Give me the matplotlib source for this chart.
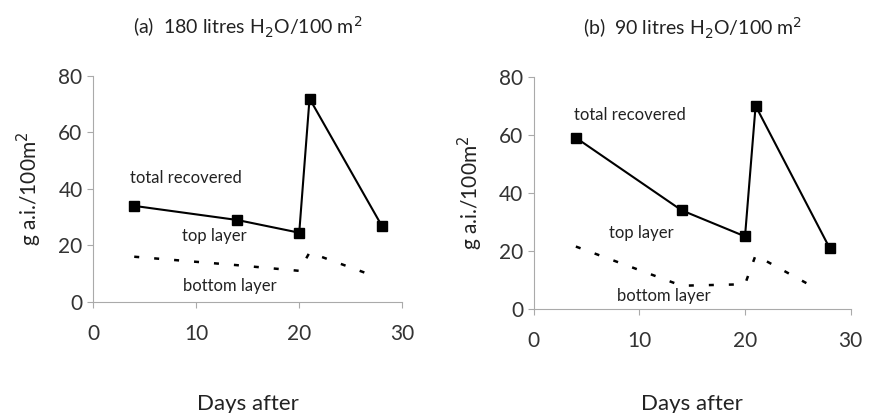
import matplotlib.pyplot as plt

plt.rcParams['font.family'] = ['Lato', 'DejaVu Sans']

# days after application
days = [4, 14, 20, 21, 28]
days_bottom_a = [4, 14, 20, 21, 27]
days_bottom_b = [4, 14, 20, 21, 27]

# panel (a) 180 litres
total_a = [34, 29, 24.5, 72, 27]
bottom_a = [16, 13, 11, 17.5, 9.5]

# panel (b) 90 litres
total_b = [59, 34, 25, 70, 21]
bottom_b = [21.5, 8, 8.5, 18.5, 6.5]

titles = ['(a)  180 litres H$_2$O/100 m$^2$', '(b)  90 litres H$_2$O/100 m$^2$']
xticks = [0, 10, 20, 30]
yticks = [0, 20, 40, 60, 80]

fig = plt.figure(figsize=(8.69, 4.13), dpi=100)
ax_a = fig.add_axes([0.107, 0.269, 0.356, 0.547])
ax_b = fig.add_axes([0.614, 0.252, 0.365, 0.562])

panels = [
    (ax_a, total_a, days_bottom_a, bottom_a,
     (3.6, 44), (11.8, 23.5), (13.3, 5.7), 36),
    (ax_b, total_b, days_bottom_b, bottom_b,
     (3.8, 67), (10.2, 26), (12.3, 4.5), 31),
]

for i, (ax, tot, xb, bot, p_tot, p_top, p_bot, xpad) in enumerate(panels):
    ax.plot(days, tot, color='black', lw=1.5, marker='s', ms=7, clip_on=False)
    ax.plot(xb, bot, color='black', lw=1.8, linestyle=(0, (2, 6)), clip_on=False)
    ax.set_xlim(0, 30)
    ax.set_ylim(0, 80)
    ax.set_xticks(xticks)
    ax.set_yticks(yticks)
    for s in ['top', 'right']:
        ax.spines[s].set_visible(False)
    for s in ['left', 'bottom']:
        ax.spines[s].set_color('#aaaaaa')
        ax.spines[s].set_linewidth(0.8)
    ax.tick_params(axis='both', colors='#aaaaaa', labelcolor='#333333',
                   labelsize=15, length=4, width=0.8)
    ax.tick_params(axis='x', pad=12)
    ax.text(p_tot[0], p_tot[1], 'total recovered', fontsize=12, ha='left', va='center', color='#222222')
    ax.text(p_top[0], p_top[1], 'top layer', fontsize=12, ha='center', va='center', color='#222222')
    ax.text(p_bot[0], p_bot[1], 'bottom layer', fontsize=12, ha='center', va='center', color='#222222')
    ax.set_title(titles[i], fontsize=14, pad=30, color='#222222')
    ax.set_xlabel('Days after', fontsize=16, labelpad=xpad, color='#222222')
    ax.set_ylabel('g a.i./100m$^2$', fontsize=15, labelpad=10, color='#222222')

fig.savefig('out.png', dpi=100)
